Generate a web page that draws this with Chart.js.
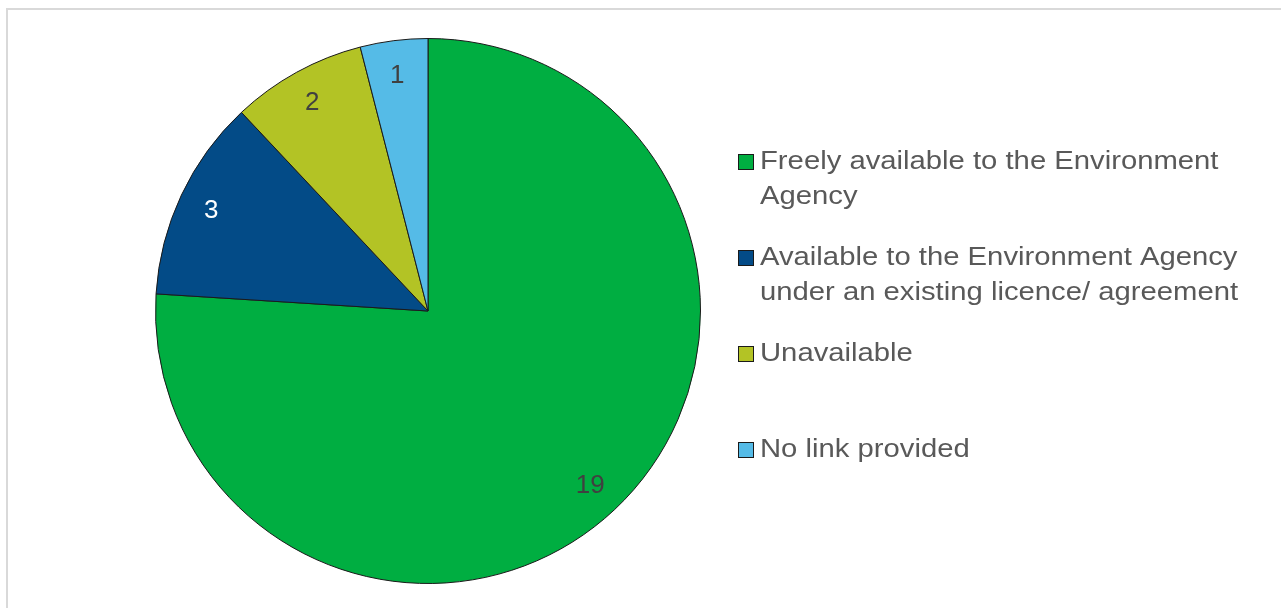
<!DOCTYPE html>
<html>
<head>
<meta charset="utf-8">
<script src="https://cdn.jsdelivr.net/npm/chart.js@4"></script>
<style>
	html, body { margin: 0; padding: 0; background: #fff; }
	#wrap { position: relative; width: 1281px; height: 608px; }
	#frame { position: absolute; left: 6px; top: 8px; right: -4px; bottom: -4px; border: 2px solid #d9d9d9; }
	canvas { position: absolute; left: 0; top: 0; }
</style>
</head>
<body>
<div id="wrap">
	<div id="frame"></div>
	<canvas id="pie-chart" width="1281" height="608"></canvas>
</div>
<script>
var categories = [
	'Freely available to the Environment Agency',
	'Available to the Environment Agency under an existing licence/ agreement',
	'Unavailable',
	'No link provided'
];
var legendLines = [
	['Freely available to the Environment', 'Agency'],
	['Available to the Environment Agency', 'under an existing licence/ agreement'],
	['Unavailable'],
	['No link provided']
];
var counts = [19, 3, 2, 1];
var colours = ['#00ae41', '#034b87', '#b3c325', '#55bbe7'];
var labelColours = ['#404040', '#ffffff', '#404040', '#404040'];

var valueLabels = {
	id: 'valueLabels',
	afterDatasetsDraw: function(chart) {
		var ctx = chart.ctx;
		var arcs = chart.getDatasetMeta(0).data;
		ctx.save();
		ctx.font = '26px "Liberation Sans", Arial, sans-serif';
		ctx.textAlign = 'center';
		ctx.textBaseline = 'middle';
		for (var i = 0; i < arcs.length; i++) {
			var p = arcs[i].getProps(['x', 'y', 'startAngle', 'endAngle', 'outerRadius']);
			var mid = (p.startAngle + p.endAngle) / 2;
			var r = p.outerRadius * 0.875;
			ctx.fillStyle = labelColours[i];
			ctx.fillText(String(counts[i]), p.x + Math.cos(mid) * r - 1, p.y + Math.sin(mid) * r + 1);
		}
		ctx.restore();
	}
};

var sideLegend = {
	id: 'sideLegend',
	afterDraw: function(chart) {
		var ctx = chart.ctx;
		var rows = [162, 258, 354, 450];
		ctx.save();
		ctx.font = '25px "Liberation Sans", Arial, sans-serif';
		ctx.textBaseline = 'middle';
		for (var i = 0; i < legendLines.length; i++) {
			ctx.fillStyle = colours[i];
			ctx.fillRect(738.5, rows[i] - 7.5, 15, 15);
			ctx.strokeStyle = '#1a1a1a';
			ctx.lineWidth = 1;
			ctx.strokeRect(738.5, rows[i] - 7.5, 15, 15);
			ctx.fillStyle = '#595959';
			for (var j = 0; j < legendLines[i].length; j++) {
				ctx.save();
				ctx.translate(760, rows[i] + j * 35);
				ctx.scale(1.17, 1);
				ctx.fillText(legendLines[i][j], 0, 0);
				ctx.restore();
			}
		}
		ctx.restore();
	}
};

var ctx = document.getElementById('pie-chart').getContext('2d');
var pieChart = new Chart(ctx, {
	type: 'pie',
	data: {
		labels: categories,
		datasets: [{
			data: counts,
			backgroundColor: colours,
			borderColor: '#1a1a1a',
			borderWidth: 1
		}]
	},
	options: {
		responsive: false,
		animation: false,
		layout: {
			padding: { left: 155, right: 580, top: 38, bottom: 24 }
		},
		plugins: {
			legend: { display: false },
			tooltip: { enabled: false }
		}
	},
	plugins: [valueLabels, sideLegend]
});
</script>
</body>
</html>
